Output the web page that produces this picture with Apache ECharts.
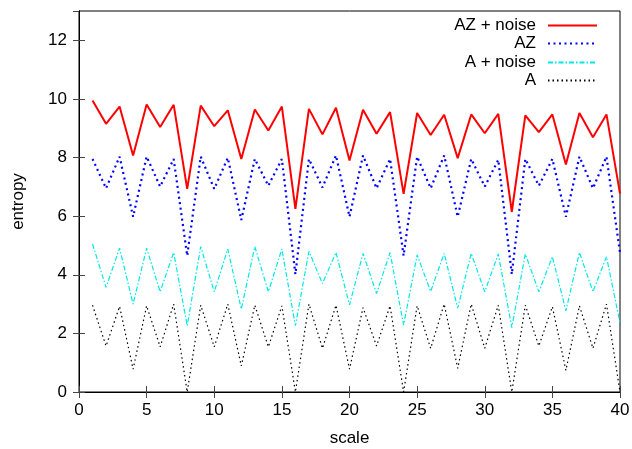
<!DOCTYPE html>
<html>
<head>
<meta charset="utf-8">
<script src="https://cdn.jsdelivr.net/npm/echarts@6/dist/echarts.min.js"></script>
<style>html,body{margin:0;padding:0;background:#fff;}#c{width:632px;height:449px;}</style>
</head>
<body>
<div id="c"></div>
<script>
var scale = [1,2,3,4,5,6,7,8,9,10,11,12,13,14,15,16,17,18,19,20,21,22,23,24,25,26,27,28,29,30,31,32,33,34,35,36,37,38,39,40];
var azNoise = [9.95,9.15,9.74,8.07,9.81,9.04,9.80,6.93,9.77,9.07,9.61,7.95,9.64,8.92,9.74,6.25,9.66,8.79,9.70,7.90,9.63,8.81,9.55,6.76,9.52,8.77,9.46,7.98,9.47,8.83,9.49,6.15,9.44,8.87,9.47,7.76,9.52,8.69,9.47,6.77];
var az = [7.95,6.95,8.03,5.98,8.03,7.01,7.95,4.65,8.03,6.93,7.99,5.87,7.95,7.04,7.95,4.02,7.95,6.98,8.07,5.98,8.07,6.95,7.95,4.65,8.03,6.95,8.07,5.98,7.95,7.01,7.92,4.02,7.95,7.04,7.95,5.98,8.03,6.95,8.03,4.75];
var aNoise = [5.05,3.57,4.91,3.00,4.91,3.42,4.76,2.26,4.96,3.42,4.88,2.83,4.96,3.42,4.88,2.26,4.80,3.70,4.76,2.97,4.73,3.36,4.76,2.28,4.68,3.43,4.73,2.86,4.73,3.42,4.71,2.20,4.71,3.42,4.62,2.77,4.76,3.42,4.62,2.35];
var a = [2.96,1.57,2.92,0.78,2.94,1.54,3.00,0,2.96,1.54,3.00,0.89,2.96,1.54,2.94,0,3.00,1.49,2.96,0.78,2.88,1.57,2.94,0,2.94,1.49,3.00,0.81,3.00,1.49,2.96,0,2.96,1.57,2.91,0.74,2.94,1.49,3.00,0];
var names = ['AZ + noise','AZ','A + noise','A'];

function pairs(ys){ return scale.map(function(x,i){ return [x, ys[i]]; }); }
var font = 'Liberation Sans, Arial, sans-serif';
var fs = 17;
var chart = echarts.init(document.getElementById('c'), null, {renderer:'canvas'});
function leg(name, top){
  return {data:[name], right:34, top:top, orient:'vertical', align:'right', padding:0,
    itemWidth:49, itemHeight:14, selectedMode:false, itemStyle:{opacity:0},
    textStyle:{fontFamily:font, fontSize:fs, color:'#000', padding:[0,7,0,0]}};
}
var tickStyle = {show:true, inside:true, length:6, lineStyle:{color:'#444', width:1}};
chart.setOption({
  animation:false,
  grid:{left:79, right:12, top:11, bottom:57, show:true, borderColor:'#000', borderWidth:1, outerBoundsMode:'none', containLabel:false},
  legend:[leg(names[0],17), leg(names[1],35), leg(names[2],54), leg(names[3],72)],
  xAxis:[
    {type:'value', min:0, max:40, interval:5, name:'scale', nameLocation:'middle', nameGap:38,
     nameTextStyle:{fontFamily:font, fontSize:fs, color:'#000'},
     axisLine:{lineStyle:{color:'#000'}}, axisTick:tickStyle, splitLine:{show:false},
     axisLabel:{fontFamily:font, fontSize:fs, color:'#000', margin:10}},
    {type:'value', min:0, max:40, interval:5, position:'top',
     axisLine:{lineStyle:{color:'#000'}}, axisTick:tickStyle, splitLine:{show:false}, axisLabel:{show:false}}
  ],
  yAxis:[
    {type:'value', min:0, max:13, interval:2, name:'entropy', nameLocation:'middle', nameGap:52, nameRotate:90,
     nameTextStyle:{fontFamily:font, fontSize:fs, color:'#000'},
     axisLine:{show:true, lineStyle:{color:'#000'}}, axisTick:tickStyle, splitLine:{show:false},
     axisLabel:{fontFamily:font, fontSize:fs, color:'#000', margin:12, showMaxLabel:false}},
    {type:'value', min:0, max:13, interval:2, position:'right',
     axisLine:{show:true, lineStyle:{color:'#000'}}, axisTick:tickStyle, splitLine:{show:false}, axisLabel:{show:false}}
  ],
  series:[
    {name:names[0], type:'line', data:pairs(azNoise), symbol:'none', showSymbol:false, color:'#ff0000',
     lineStyle:{color:'#ff0000', width:2}},
    {name:names[1], type:'line', data:pairs(az), symbol:'none', showSymbol:false, color:'#0000ff',
     lineStyle:{color:'#0000ff', width:2.2, type:[2,3.5]}},
    {name:names[2], type:'line', data:pairs(aNoise), symbol:'none', showSymbol:false, color:'#00ffff',
     lineStyle:{color:'#00e8e8', width:1.2, type:[5,2,1.5,2]}},
    {name:names[3], type:'line', data:pairs(a), symbol:'none', showSymbol:false, color:'#000000',
     lineStyle:{color:'#000', width:1.2, type:[1.5,3]}}
  ]
});
</script>
</body>
</html>
